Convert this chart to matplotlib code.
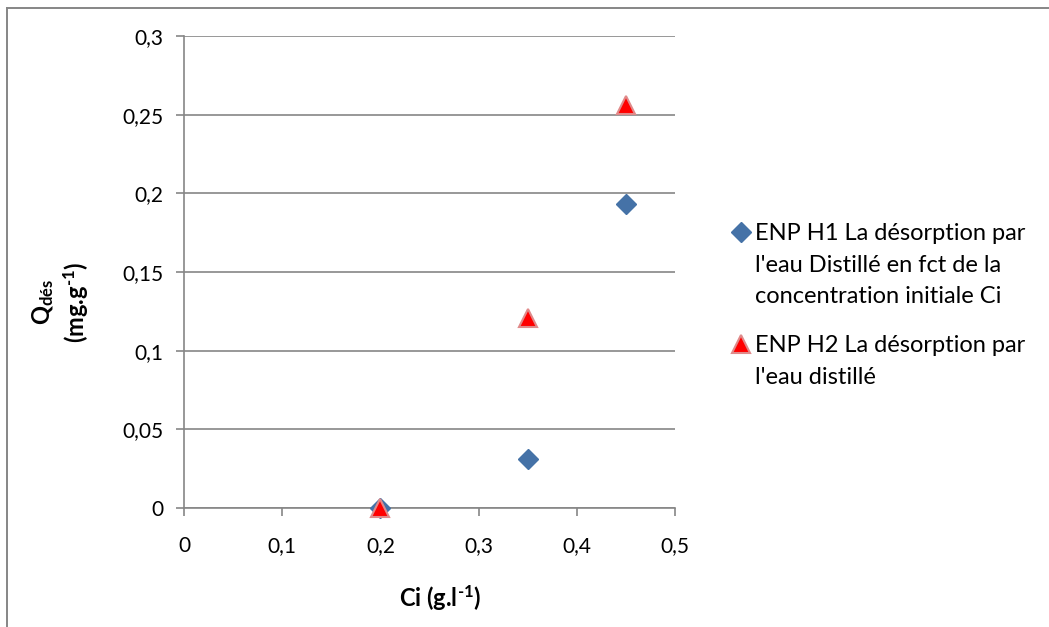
import matplotlib
matplotlib.use("Agg")
import matplotlib.pyplot as plt
from matplotlib.lines import Line2D
from matplotlib.ticker import FuncFormatter

plt.rcParams["font.family"] = ["Lato", "DejaVu Sans"]
plt.rcParams["mathtext.fontset"] = "custom"
plt.rcParams["mathtext.rm"] = "Lato:bold"
plt.rcParams["mathtext.bf"] = "Lato:bold"
plt.rcParams["mathtext.it"] = "Lato:bold:italic"

# Initial concentration Ci (g/l) and desorbed quantity Qdés (mg/g)
ci_h1 = [0.20, 0.35, 0.45]
q_h1 = [0.000, 0.031, 0.193]
ci_h2 = [0.20, 0.35, 0.45]
q_h2 = [0.000, 0.121, 0.256]

label_h1 = ["ENP H1 La désorption par", "l'eau Distillé en fct de la",
            "concentration initiale Ci"]
label_h2 = ["ENP H2 La désorption par", "l'eau distillé"]

x_ticks = [0, 0.1, 0.2, 0.3, 0.4, 0.5]
y_ticks = [0, 0.05, 0.1, 0.15, 0.2, 0.25, 0.3]

W, H = 1049, 627
fig = plt.figure(figsize=(W / 100, H / 100), dpi=100)
ax = fig.add_axes([184 / W, 1 - 508 / H, (675 - 184) / W, (508 - 36) / H])


def fx(px):
    return px / W


def fy(py):
    return 1 - py / H


grid_col = "#868686"
ax.set_xlim(0, 0.5)
ax.set_ylim(0, 0.3)
ax.set_xticks(x_ticks)
ax.set_yticks(y_ticks)
comma = FuncFormatter(lambda v, p: ("%g" % round(v, 3)).replace(".", ","))
ax.xaxis.set_major_formatter(comma)
ax.yaxis.set_major_formatter(comma)
ax.yaxis.grid(True, color=grid_col, linewidth=1.2)
ax.set_axisbelow(True)
for s in ("top", "right"):
    ax.spines[s].set_visible(False)
for s in ("left", "bottom"):
    ax.spines[s].set_color(grid_col)
    ax.spines[s].set_linewidth(1.2)
ax.tick_params(axis="both", colors=grid_col, labelcolor="black", labelsize=15,
               length=6, width=1.2, direction="out")
ax.tick_params(axis="x", pad=14)
ax.tick_params(axis="y", pad=9)

h1_style = dict(linestyle="none", marker="D", markersize=10,
                color="#4572a7", markeredgecolor="#4572a7")
h2_style = dict(linestyle="none", marker="^", markersize=13,
                color="#ff0000", markeredgecolor="#e08a8a",
                markeredgewidth=1.5)

ax.plot(ci_h1, q_h1, clip_on=False, zorder=3, **h1_style)
ax.plot(ci_h2, q_h2, clip_on=False, zorder=4, **h2_style)

# legend: marker aligned with the first line of each wrapped entry
leg_x_marker, leg_x_text = 741, 755
for style, lines, top_base in ((h1_style, label_h1, 240),
                               (h2_style, label_h2, 352)):
    fig.add_artist(Line2D([fx(leg_x_marker)], [fy(top_base - 8)],
                          transform=fig.transFigure, **style))
    for i, line in enumerate(lines):
        fig.text(fx(leg_x_text), fy(top_base + 31.5 * i), line,
                 ha="left", va="baseline", fontsize=17)

fig.text(fx(440), fy(598), r"$\text{Ci (g.l}^{\text{-1}}\text{)}$",
         ha="center", va="center", fontsize=17)
fig.text(fx(43), fy(302), r"$\text{Q}_{\text{dés}}$", ha="center",
         va="center", rotation=90, fontsize=17)
fig.text(fx(76), fy(302), r"$\text{(mg.g}^{\text{-1}}\text{)}$",
         ha="center", va="center", rotation=90, fontsize=17)

# outer chart frame
fig.add_artist(Line2D([fx(7), fx(7)], [0, fy(8)], color=grid_col,
                      linewidth=1.4, transform=fig.transFigure))
fig.add_artist(Line2D([fx(7), 1], [fy(8), fy(8)], color=grid_col,
                      linewidth=1.4, transform=fig.transFigure))

fig.savefig("out.png", dpi=100)
